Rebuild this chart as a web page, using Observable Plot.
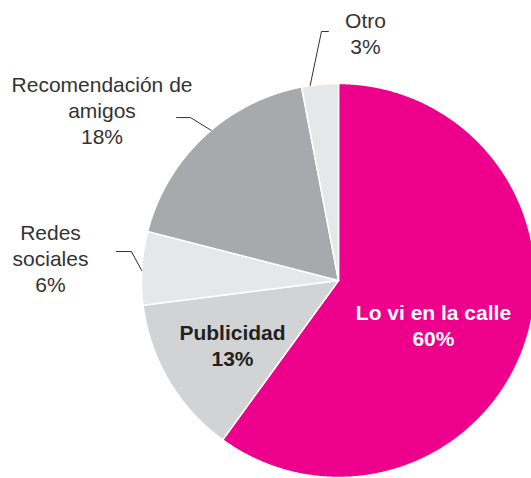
<!DOCTYPE html>
<html><head><meta charset="utf-8">
<script src="https://cdn.jsdelivr.net/npm/d3@7"></script>
<script src="https://cdn.jsdelivr.net/npm/@observablehq/plot@0.6"></script>
<style>body{margin:0;background:#fff}</style>
</head><body><div id="chart"></div>
<script>
// ---- data ----
const categories = ["Lo vi en la calle", "Publicidad", "Redes sociales", "Recomendación de amigos", "Otro"];
const values = [60, 13, 6, 18, 3];
const labelTexts = ["Lo vi en la calle\n60%", "Publicidad\n13%", "Redes\nsociales\n6%", "Recomendación de\namigos\n18%", "Otro\n3%"];

// ---- styles / layout ----
const colors = ["#EC008C", "#D1D3D4", "#E6E7E8", "#A7A9AC", "#E6E7E8"];
const labelStyle = [
  {x: 0.482, y: -0.223, fill: "#fff", weight: "bold"},
  {x: -0.538, y: -0.327, fill: "#231F20", weight: "bold"},
  {x: -1.462, y: 0.114, fill: "#333", weight: "normal"},
  {x: -1.2005, y: 0.865, fill: "#333", weight: "normal"},
  {x: 0.137, y: 1.256, fill: "#333", weight: "normal"}
];
// leader lines: rim anchor (fraction shift from slice middle), elbow, end (data units)
const leaders = [
  {slice: 2, shift: -0.002, elbow: [-1.051, 0.147], end: [-1.127, 0.147]},
  {slice: 3, shift: 0.008, elbow: [-0.751, 0.827], end: [-0.822, 0.827]},
  {slice: 4, shift: -0.008, elbow: [-0.0863, 1.264], end: [-0.0508, 1.264]}
];

const W = 531, H = 478, CX = 338, CY = 280, R = 197;

const arcs = d3.pie().sort(null).value(d => d)(values);
const rows = [];
arcs.forEach((a, i) => {
  rows.push({k: i, x: 0, y: 0});
  const n = Math.max(2, Math.ceil((a.endAngle - a.startAngle) / 0.005));
  for (let j = 0; j <= n; j++) {
    const t = a.startAngle + (a.endAngle - a.startAngle) * j / n;
    rows.push({k: i, x: Math.sin(t), y: Math.cos(t)});
  }
  rows.push({k: i, x: 0, y: 0});
});

const leaderRows = [];
leaders.forEach((l, i) => {
  const a = arcs[l.slice];
  const t = (a.startAngle + a.endAngle) / 2 + l.shift * 2 * Math.PI;
  leaderRows.push({k: i, x: Math.sin(t), y: Math.cos(t)});
  leaderRows.push({k: i, x: l.elbow[0], y: l.elbow[1]});
  leaderRows.push({k: i, x: l.end[0], y: l.end[1]});
});

const labels = labelTexts.map((t, i) => ({text: t, ...labelStyle[i]}));

const chart = Plot.plot({
  width: W, height: H,
  margin: 0,
  style: {fontFamily: "'Liberation Sans', Arial, Helvetica, sans-serif", background: "#fff"},
  x: {domain: [-CX / R, (W - CX) / R], axis: null},
  y: {domain: [-(H - CY) / R, CY / R], axis: null},
  marks: [
    ...arcs.map((a, i) => Plot.line(rows.filter(r => r.k === i), {
      x: "x", y: "y", fill: colors[i], stroke: "#fff", strokeWidth: 1.5, strokeLinejoin: "round"
    })),
    Plot.line(leaderRows, {x: "x", y: "y", z: "k", stroke: "#333", strokeWidth: 1}),
    ...labels.map(l => Plot.text([l], {
      x: "x", y: "y", text: "text", fill: l.fill, fontWeight: l.weight,
      fontSize: 21, lineHeight: 1.24, textAnchor: "middle", lineAnchor: "middle"
    }))
  ]
});
document.getElementById("chart").append(chart);
</script>
</body></html>
